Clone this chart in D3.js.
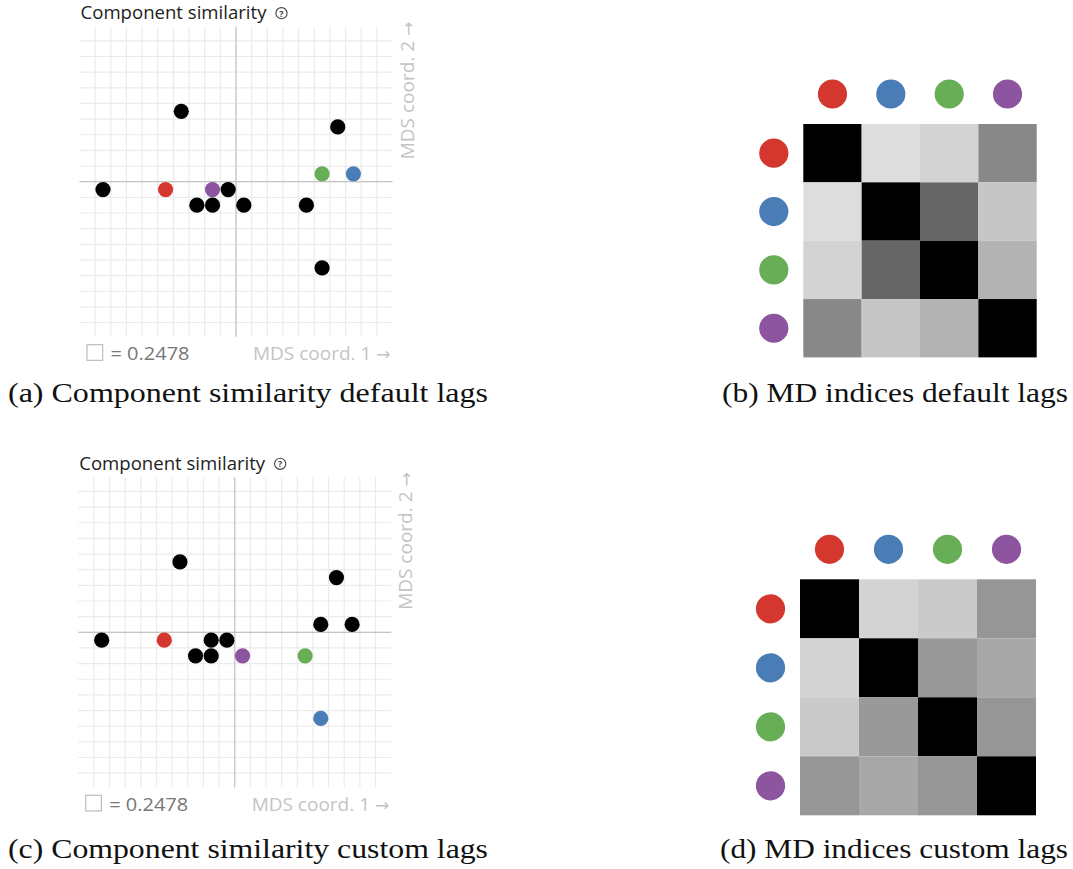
<!DOCTYPE html>
<html>
<head>
<meta charset="utf-8">
<script src="https://cdn.jsdelivr.net/npm/d3@7"></script>
<style>
	body{margin:0;background:#fff;}
	svg{display:block;}
</style>
</head>
<body>
<div id="chart"></div>
<script>

// grid step of the MDS plots (one cell)
const step = 0.2478;

// components in the heatmaps
const comps = ["red","blue","green","purple"];
const compColor = {red:"#d3372d", blue:"#4a7db5", green:"#68ae57", purple:"#8d54a0"};

// MDS points, default lags (x, y, colour)
const mdsDefaultX = [-2.106,-1.115,-0.372,-0.124,-0.867, 1.611, 1.363, 1.859,-0.620,-0.372, 0.124, 1.115, 1.363];
const mdsDefaultY = [-0.124,-0.124,-0.124,-0.124, 1.115, 0.867, 0.124, 0.124,-0.372,-0.372,-0.372,-0.372,-1.363];
const mdsDefaultC = ["black","red","purple","black","black","black","green","blue","black","black","black","black","black"];

// MDS points, custom lags
const mdsCustomX = [-2.106,-1.115,-0.372,-0.124,-0.867, 1.611, 1.363, 1.859,-0.620,-0.372, 0.124, 1.115, 1.363];
const mdsCustomY = [-0.124,-0.124,-0.124,-0.124, 1.115, 0.867, 0.124, 0.124,-0.372,-0.372,-0.372,-0.372,-1.363];
const mdsCustomC = ["black","red","black","black","black","black","black","black","black","black","purple","green","blue"];

// MD indices (row by row: red, blue, green, purple)
const mdDefault = [
	[1.000,0.133,0.173,0.467],
	[0.133,1.000,0.600,0.224],
	[0.173,0.600,1.000,0.298],
	[0.467,0.224,0.298,1.000]
];
const mdCustom = [
	[1.000,0.173,0.208,0.412],
	[0.173,1.000,0.400,0.341],
	[0.208,0.400,1.000,0.412],
	[0.412,0.341,0.412,1.000]
];

const captions = [
	"(a) Component similarity default lags",
	"(b) MD indices default lags",
	"(c) Component similarity custom lags",
	"(d) MD indices custom lags"
];

let width = 1073, height = 869;

let svg = d3.select("#chart")
	.append("svg")
	.attr("width", width)
	.attr("height", height);

const sans = "'Open Sans', 'Liberation Sans', Arial, sans-serif";
const serif = "'Liberation Serif', 'DejaVu Serif', serif";

function mdsPlot(cx, cy, xs, ys, cs){

	let cell = 15.65;

	const xScale = d3.scaleLinear()
		.domain([-10*step, 10*step])
		.range([cx-10*cell, cx+10*cell]);
	const yScale = d3.scaleLinear()
		.domain([-10*step, 10*step])
		.range([cy+10*cell, cy-10*cell]);

	let ticks = d3.range(-9,10).map((k)=>k*step);

	let g = svg.append("g");

	//grid
	g.selectAll(".vline")
		.data(ticks)
		.enter().append("line")
		.attr("x1", (d)=>xScale(d)).attr("x2", (d)=>xScale(d))
		.attr("y1", yScale(9.9*step)).attr("y2", yScale(-9.9*step))
		.attr("stroke", "#ebebeb")
		.attr("stroke-width", 1.2);

	g.selectAll(".hline")
		.data(ticks)
		.enter().append("line")
		.attr("y1", (d)=>yScale(d)).attr("y2", (d)=>yScale(d))
		.attr("x1", xScale(-10*step)).attr("x2", xScale(10*step))
		.attr("stroke", "#ebebeb")
		.attr("stroke-width", 1.2);

	// axes on top of grid
	g.append("line")
		.attr("x1", xScale(0)).attr("x2", xScale(0))
		.attr("y1", yScale(9.9*step)).attr("y2", yScale(-9.9*step))
		.attr("stroke", "#c4c4c4").attr("stroke-width", 1.2);
	g.append("line")
		.attr("y1", yScale(0)).attr("y2", yScale(0))
		.attr("x1", xScale(-10*step)).attr("x2", xScale(10*step))
		.attr("stroke", "#c4c4c4").attr("stroke-width", 1.2);

	//points
	let pts = xs.map((x,i)=>({x:x, y:ys[i], c:cs[i]}));
	g.selectAll(".pt")
		.data(pts)
		.enter().append("circle")
		.attr("cx", (d)=>xScale(d.x))
		.attr("cy", (d)=>yScale(d.y))
		.attr("r", 7.6)
		.attr("fill", (d)=> d.c=="black" ? "#000" : compColor[d.c]);

	//title
	let left = xScale(-10*step);
	g.append("text")
		.attr("x", left+1).attr("y", cy-162.5)
		.attr("font-family", sans).attr("font-size", 17.5)
		.attr("fill", "#222")
		.attr("textLength", 186)
		.attr("lengthAdjust", "spacingAndGlyphs")
		.text("Component similarity");
	g.append("circle")
		.attr("cx", left+202).attr("cy", cy-168.5)
		.attr("r", 5.6)
		.attr("fill", "none").attr("stroke", "#444").attr("stroke-width", 1.1);
	g.append("text")
		.attr("x", left+202).attr("y", cy-165)
		.attr("text-anchor", "middle")
		.attr("font-family", sans).attr("font-size", 9).attr("font-weight", "bold")
		.attr("fill", "#444")
		.text("?");

	//y label
	let ylab = g.append("text")
		.attr("transform", `translate(${xScale(10*step)+21},${cy-160}) rotate(-90)`)
		.attr("text-anchor", "end")
		.attr("font-family", sans).attr("font-size", 19)
		.attr("fill", "#c4c4c4");
	ylab.append("tspan").text("MDS coord. 2 ");
	ylab.append("tspan").attr("font-family", "'DejaVu Sans', sans-serif").attr("font-size", 17).text("\u2192");

	//legend square
	let by = cy + 178.5;
	g.append("rect")
		.attr("x", left+7.5).attr("y", by-15.5)
		.attr("width", cell).attr("height", cell)
		.attr("fill", "none").attr("stroke", "#bdbdbd").attr("stroke-width", 1.2);
	g.append("text")
		.attr("x", left+31).attr("y", by)
		.attr("font-family", sans).attr("font-size", 17.5)
		.attr("fill", "#777")
		.attr("textLength", 79)
		.attr("lengthAdjust", "spacingAndGlyphs")
		.text("= " + step);
	let xlab = g.append("text")
		.attr("x", xScale(10*step)-2).attr("y", by)
		.attr("text-anchor", "end")
		.attr("font-family", sans).attr("font-size", 19)
		.attr("fill", "#c4c4c4");
	xlab.append("tspan").text("MDS coord. 1 ");
	xlab.append("tspan").attr("font-family", "'DejaVu Sans', sans-serif").attr("font-size", 17).text("\u2192");
}

function mdMatrix(x0, y0, size, data){

	const band = d3.scaleBand()
		.domain(comps)
		.range([0, size]);

	const gray = d3.scaleLinear()
		.domain([0,1])
		.range(["#ffffff","#000000"]);

	let g = svg.append("g").attr("transform", `translate(${x0},${y0})`);

	let cells = [];
	data.forEach((row,i)=>{
		row.forEach((v,j)=>{ cells.push({r:comps[i], c:comps[j], v:v}); });
	});

	g.selectAll("rect")
		.data(cells)
		.enter().append("rect")
		.attr("x", (d)=>band(d.c))
		.attr("y", (d)=>band(d.r))
		.attr("width", band.bandwidth())
		.attr("height", band.bandwidth())
		.attr("fill", (d)=>gray(d.v));

	let bw = band.bandwidth();

	g.selectAll(".colc")
		.data(comps)
		.enter().append("circle")
		.attr("cx", (d)=>band(d)+bw/2)
		.attr("cy", -30)
		.attr("r", 14.6)
		.attr("fill", (d)=>compColor[d]);

	g.selectAll(".rowc")
		.data(comps)
		.enter().append("circle")
		.attr("cx", -29.5)
		.attr("cy", (d)=>band(d)+bw/2)
		.attr("r", 14.6)
		.attr("fill", (d)=>compColor[d]);
}

function caption(x, y, txt, len){
	svg.append("text")
		.attr("x", x).attr("y", y)
		.attr("font-family", serif).attr("font-size", 28)
		.attr("fill", "#111")
		.attr("textLength", len)
		.attr("lengthAdjust", "spacingAndGlyphs")
		.text(txt);
}

mdsPlot(236, 181.7, mdsDefaultX, mdsDefaultY, mdsDefaultC);
mdsPlot(234.7, 632.3, mdsCustomX, mdsCustomY, mdsCustomC);

mdMatrix(803.3, 124, 233.4, mdDefault);
mdMatrix(800, 579.3, 236, mdCustom);

caption(8, 402, captions[0], 480);
caption(722, 402, captions[1], 346);
caption(8, 858, captions[2], 480);
caption(720, 858, captions[3], 348);

</script>
</body>
</html>
